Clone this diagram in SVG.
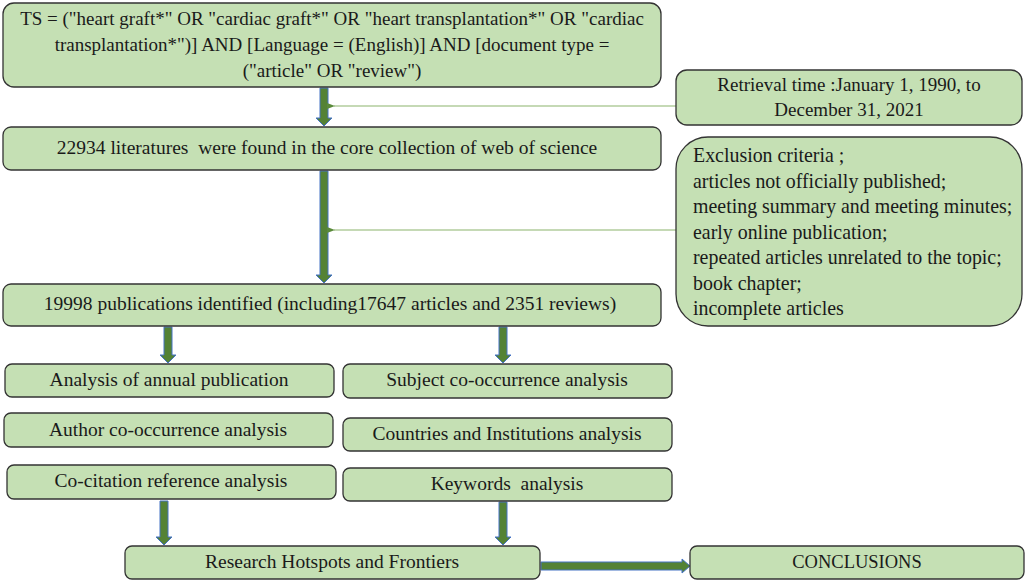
<svg xmlns="http://www.w3.org/2000/svg" width="1026" height="581" viewBox="0 0 1026 581">
<defs>
<style>
.box{fill:#c5e0b4;stroke:#333;stroke-width:1.3}
.t{font-family:"Liberation Serif",serif;font-size:19.5px;fill:#1a1a1a;white-space:pre}
.q{font-size:19px}
.x{font-size:19.9px}
.c{text-anchor:middle}
.blk{fill:#548235;stroke:#4472c4;stroke-width:1}
.thin{stroke:#8cb46c;stroke-width:1.2;fill:none}
</style>
<marker id="ah" markerWidth="8" markerHeight="6" refX="1" refY="3" orient="auto" markerUnits="userSpaceOnUse">
<path d="M8,0 L0,3 L8,6 Z" fill="#5a8a3a"/>
</marker>
</defs>
<rect width="1026" height="581" fill="#fff"/>
<g id="connectors">
<path class="blk" d="M320,88 H328 V118 H332 L324,126 L316,118 H320 Z"/>
<path class="blk" d="M320,171 H328 V275 H332 L324,283 L316,275 H320 Z"/>
<path class="blk" d="M164,327 H172 V355 H176 L168,363 L160,355 H164 Z"/>
<path class="blk" d="M499,327 H507 V355 H511 L503,363 L495,355 H499 Z"/>
<path class="blk" d="M160,501 H168 V537 H172 L164,545 L156,537 H160 Z"/>
<path class="blk" d="M499,502 H507 V537 H511 L503,545 L495,537 H499 Z"/>
<path class="blk" d="M541,562 H682 V559 L690,566 L682,573 V570 H541 Z"/>
<line class="thin" x1="676" y1="106" x2="334" y2="106" marker-end="url(#ah)"/>
<line class="thin" x1="676" y1="230" x2="334" y2="230" marker-end="url(#ah)"/>
</g>
<g id="query">
<rect class="box" x="3" y="3" width="658" height="84" rx="11"/>
<text class="t q c" x="332" y="25">TS = ("heart graft*" OR "cardiac graft*" OR "heart transplantation*" OR "cardiac</text>
<text class="t q c" x="332" y="51">transplantation*")] AND [Language = (English)] AND [document type =</text>
<text class="t q c" x="332" y="77">("article" OR "review")</text>
</g>
<g id="retrieval">
<rect class="box" x="676" y="70" width="346" height="55" rx="11"/>
<text class="t q c" x="849" y="91">Retrieval time :January 1, 1990, to</text>
<text class="t q c" x="849" y="116">December 31, 2021</text>
</g>
<g id="found">
<rect class="box" x="3" y="127" width="658" height="43" rx="8"/>
<text class="t c" x="327" y="154">22934 literatures  were found in the core collection of web of science</text>
</g>
<g id="exclusion">
<rect class="box" x="676" y="137" width="346" height="189" rx="32"/>
<text class="t x" x="693" y="162">Exclusion criteria ;</text>
<text class="t x" x="693" y="188">articles not officially published;</text>
<text class="t x" x="693" y="213">meeting summary and meeting minutes;</text>
<text class="t x" x="693" y="239">early online publication;</text>
<text class="t x" x="693" y="264">repeated articles unrelated to the topic;</text>
<text class="t x" x="693" y="290">book chapter;</text>
<text class="t x" x="693" y="315">incomplete articles</text>
</g>
<g id="identified">
<rect class="box" x="3" y="284" width="658" height="42" rx="8"/>
<text class="t c" x="330" y="310">19998 publications identified (including17647 articles and 2351 reviews)</text>
</g>
<g id="annual">
<rect class="box" x="5" y="364" width="329" height="33" rx="7"/>
<text class="t c" x="169" y="386">Analysis of annual publication</text>
</g>
<g id="subject">
<rect class="box" x="343" y="364" width="329" height="34" rx="7"/>
<text class="t c" x="507" y="386">Subject co-occurrence analysis</text>
</g>
<g id="author">
<rect class="box" x="4" y="413" width="329" height="34" rx="7"/>
<text class="t c" x="168" y="436">Author co-occurrence analysis</text>
</g>
<g id="countries">
<rect class="box" x="343" y="418" width="329" height="33" rx="7"/>
<text class="t c" x="507" y="440">Countries and Institutions analysis</text>
</g>
<g id="cocitation">
<rect class="box" x="7" y="465" width="329" height="34" rx="7"/>
<text class="t c" x="171" y="487">Co-citation reference analysis</text>
</g>
<g id="keywords">
<rect class="box" x="343" y="468" width="329" height="33" rx="7"/>
<text class="t c" x="507" y="490">Keywords  analysis</text>
</g>
<g id="hotspots">
<rect class="box" x="125" y="546" width="415" height="33" rx="7"/>
<text class="t c" x="332" y="568">Research Hotspots and Frontiers</text>
</g>
<g id="conclusions">
<rect class="box" x="690" y="546" width="334" height="33" rx="7"/>
<text class="t c" x="857" y="568" style="font-size:18.5px">CONCLUSIONS</text>
</g>
</svg>
